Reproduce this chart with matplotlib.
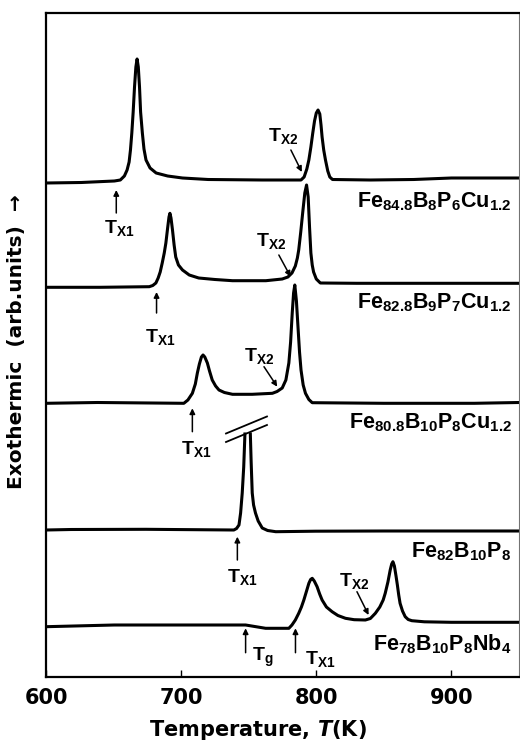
"""DSC curves of Fe-based amorphous alloys"""
import numpy as np
import matplotlib
matplotlib.use('Agg')
import matplotlib.pyplot as plt

plt.rcParams['font.family'] = ['Liberation Sans', 'DejaVu Sans']
plt.rcParams['font.weight'] = 'bold'
plt.rcParams['mathtext.fontset'] = 'custom'
plt.rcParams['mathtext.rm'] = 'Liberation Sans:bold'
plt.rcParams['mathtext.bf'] = 'Liberation Sans:bold'
plt.rcParams['mathtext.it'] = 'DejaVu Sans:italic'
plt.rcParams['mathtext.default'] = 'rm'

# Temperature (K) and exothermic signal (arb. units)
t_cu12a = [600, 626, 650.6, 655, 658, 660, 661.5, 662.5, 663.5, 664.5, 665.5, 666.5, 667.4,
           668.3, 669.2, 670, 671.3, 672.5, 674, 677, 681.5, 690, 701, 720, 760,
           788.7, 791, 793, 794.5, 796, 797.4, 798.7, 800, 801.3, 802.6, 803.5, 804.3,
           805.5, 806.8, 808.5, 810, 812, 840, 872, 900, 950]
s_cu12a = [494, 494.5, 496, 497, 501, 507, 515, 527, 544, 565, 590, 610, 618,
           610, 590, 565, 544, 528, 517, 509, 504, 501, 499, 497.5, 497,
           497, 500, 508, 517, 530, 544, 556, 564, 567, 563, 552, 540,
           527, 517, 506, 500, 497.5, 497, 497.5, 499, 499]

t_cu12b = [600, 640, 676.4, 679, 681.3, 683, 684.5, 686, 687.5, 688.7, 690, 691, 691.7,
           692.5, 693.6, 694.8, 696, 698, 701, 706, 713, 725, 738, 762.7,
           774.8, 779, 782, 784.5, 786, 787, 788.5, 790, 791.5, 792.8, 794, 795, 796,
           797, 798, 800, 803, 830, 900, 950]
s_cu12b = [389.7, 389.7, 390.3, 391.5, 394, 399, 405, 414, 424, 434, 449, 460, 463.7,
           459, 447, 432, 420, 412, 407, 402, 399, 397.5, 396.3, 396.3,
           398, 400, 404, 411, 419, 427, 445, 465, 484, 492, 480, 450, 424,
           412, 405, 398, 394, 393.7, 393.7, 393.7]

t_cu12c = [600, 638, 702, 705, 708.3, 710.5, 712, 713.5, 715, 716.2, 717.5, 719.4, 721,
           723, 725.5, 728, 732, 738, 752.6, 767.5, 771, 774.8, 777.5, 779.7, 781,
           782.2, 783.2, 784.1, 785.3, 786.6, 787.6, 788.7, 790.3, 792, 794.5, 797,
           850, 917, 950]
s_cu12c = [273.7, 274.5, 273.7, 277, 283.7, 293, 304, 313, 320, 322, 320, 314, 306,
           297, 291, 287, 284.5, 282.7, 282.7, 283.7, 285.5, 289, 297, 314, 335,
           364, 384, 392, 376, 347, 325, 307, 292, 283.7, 277.5, 274.3,
           273.7, 273.7, 274.5]

# Fe82B10P8 peak is cut by the axis break, so its top is left open
t_fbp = [600, 618.6, 674, 739, 741, 742.8, 744, 745.2, 746.3, 747.2, np.nan,
         751.2, 751.8, 752.6, 753.6, 755, 757, 760, 764, 770, 799.4, 850, 900, 950]
s_fbp = [147, 147.5, 147.7, 147, 148.5, 152, 164, 184, 210, 243, np.nan,
         243, 215, 184, 172, 164, 156, 149, 146.5, 145.3, 145.8, 146, 146, 146]

t_nb4 = [600, 650.5, 700, 747.7, 762.5, 779.7, 782, 784.5, 787, 789, 790.8, 792.8, 794.5,
         795.8, 797, 798.5, 800.6, 802.5, 804.3, 807.5, 811.7, 816, 821.6, 828, 836.3,
         840, 843.7, 847, 849.5, 851, 853, 854.7, 855.8, 856.7, 857.8, 859, 860, 861,
         862, 863.8, 865.8, 868, 870.7, 880, 900, 950]
s_nb4 = [50.3, 52, 52, 52, 48.7, 48.7, 52, 57, 63.7, 70, 77, 86, 93.7,
         97.5, 98.7, 96, 90.3, 83, 77, 70, 65.3, 61.5, 58.7, 57.3, 57,
         58.5, 63.7, 70, 77, 83.7, 95, 107, 113, 115.3, 111, 101, 92, 82,
         73.7, 66, 60.3, 57.5, 56.3, 55.2, 54.7, 54.7]

curves = [(t_cu12a, s_cu12a), (t_cu12b, s_cu12b), (t_cu12c, s_cu12c),
          (t_fbp, s_fbp), (t_nb4, s_nb4)]
names = [r'$Fe_{84.8}B_8P_6Cu_{1.2}$', r'$Fe_{82.8}B_9P_7Cu_{1.2}$',
         r'$Fe_{80.8}B_{10}P_8Cu_{1.2}$', r'$Fe_{82}B_{10}P_8$', r'$Fe_{78}B_{10}P_8Nb_4$']
name_y = [475, 374, 254, 125, 33]

# (label, label_xy, arrow_tail, arrow_head)
marks = [
    (r'$T_{X1}$', (654, 449), (652, 464), (652, 487)),
    (r'$T_{X2}$', (775.3, 541), (781.2, 527), (789.3, 505)),
    (r'$T_{X1}$', (684.5, 340), (681.8, 364), (681.8, 385)),
    (r'$T_{X2}$', (766.8, 436), (772.3, 422), (781, 400.3)),
    (r'$T_{X1}$', (711.4, 228), (708.3, 245.3), (708.3, 268.7)),
    (r'$T_{X2}$', (757.6, 321), (761.3, 310.3), (771.1, 290.3)),
    (r'$T_{X1}$', (745.2, 100), (741.6, 117), (741.6, 140.3)),
    (r'$T_{g}$', (760.5, 20), (747.7, 24.3), (747.7, 48.7)),
    (r'$T_{X1}$', (803, 18), (784.6, 24.3), (784.6, 48.7)),
    (r'$T_{X2}$', (827.7, 96), (830.1, 85.3), (838.7, 62)),
]

fig = plt.figure(figsize=(5.2, 7.42), dpi=100)
ax = fig.add_axes([46 / 520, 65 / 742, 473 / 520, 664 / 742])

for t, s in curves:
    ax.plot(t, s, color='black', linewidth=2.2, solid_joinstyle='round')

for name, y in zip(names, name_y):
    ax.text(944.5, y, name, ha='right', va='center', fontsize=15.5)

for label, xy, tail, head in marks:
    ax.text(xy[0], xy[1], label, ha='center', va='center', fontsize=14)
    ax.annotate('', xy=head, xytext=tail,
                arrowprops=dict(arrowstyle='-|>', color='black', lw=1.1,
                                mutation_scale=8, shrinkA=0, shrinkB=0))

# axis break on the Fe82B10P8 peak
for dy in (0, 8.5):
    ax.plot([733.2, 763.5], [235 + dy, 252 + dy], color='black', linewidth=1.3)

ax.set_xlim(600, 950)
ax.set_ylim(0, 664)
ax.set_xticks([600, 700, 800, 900])
ax.set_yticks([])
ax.tick_params(axis='x', direction='in', length=5, width=1, pad=8)
for lab in ax.get_xticklabels():
    lab.set_family('DejaVu Sans')
    lab.set_fontweight('bold')
    lab.set_fontsize(15)
for side in ('left', 'bottom', 'top'):
    ax.spines[side].set_linewidth(1.6)
ax.spines['right'].set_linewidth(0.8)
ax.spines['right'].set_color('0.45')

ax.set_xlabel(r'Temperature, $\mathit{T}$(K)', fontsize=15, fontweight='bold',
              family='DejaVu Sans')
ax.xaxis.set_label_coords(0.447, -0.062)
fig.text(17 / 520, 1 - 342 / 742, 'Exothermic  (arb.units)  \u2192', rotation=90,
         ha='center', va='center', fontsize=14.5, fontweight='bold', family='DejaVu Sans')

plt.savefig('out.png', dpi=100)
plt.close()
